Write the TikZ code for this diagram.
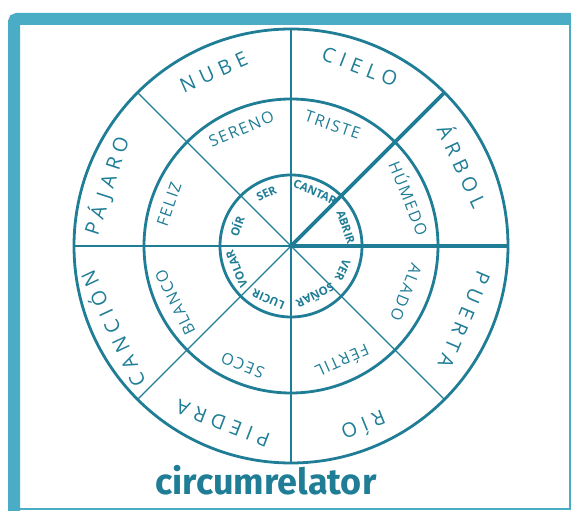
\documentclass[tikz,border=0pt]{standalone}
\usepackage{fontspec}
\newfontfamily\handfont{Open Sans}
\newfontfamily\titlefont{Fira Sans}
\definecolor{wheelcol}{RGB}{31,125,150}
\definecolor{framecol}{RGB}{75,172,198}
\tikzset{
  ring/.style={draw=wheelcol, line width=2.8pt},
  spoke/.style={draw=wheelcol, line width=1.3pt},
  bigspoke/.style={draw=wheelcol, line width=3.6pt},
  outerword/.style={text=wheelcol, inner sep=0pt, font=\handfont\fontsize{20}{20}\selectfont\addfontfeature{LetterSpace=30}},
  midword/.style={text=wheelcol, inner sep=0pt, font=\handfont\fontsize{16}{16}\selectfont\addfontfeature{LetterSpace=10}},
  innerword/.style={text=wheelcol, inner sep=0pt, font=\handfont\bfseries\fontsize{11.5}{11.5}\selectfont},
}
\begin{document}
\begin{tikzpicture}[x=1pt,y=1pt]
  \useasboundingbox (0,0) rectangle (571,511);
  \clip (0,0) rectangle (571,511);
  % frame
  \draw[framecol, line width=12pt, rounded corners=3pt] (14,-10) -- (14,492) -- (590,492);
  \draw[framecol, line width=1.5pt] (14,2) -- (570,2) -- (570,492);
  \begin{scope}[shift={(291,265)}]
    \coordinate (c) at (0,0);
    % rings and spokes
    \foreach \r in {217,147,71} \draw[ring] (c) circle (\r);
    \draw[spoke] (90:217) -- (270:217);
    \draw[spoke] (135:217) -- (315:217);
    \draw[spoke] (180:217) -- (c);
    \draw[spoke] (225:217) -- (c);
    \draw[bigspoke] (c) -- (0:217);
    \draw[bigspoke] (c) -- (45:217);
    % outer words
    \foreach \a/\r/\w [count=\k] in {114/190/NUBE, 69/192/CIELO, 25/190/ÁRBOL, -23/188/PUERTA,
        -68/195/RÍO, -111/190/PIEDRA, 205/198/CANCIÓN, 162/194/PÁJARO}
      \node[outerword, rotate=\a-90] (o\k) at (\a:\r) {\w};
    % middle words
    \foreach \a/\r/\w [count=\k] in {113/127/SERENO, 71/128/TRISTE, 22/128/HÚMEDO, -22/124/ALADO,
        -66/127/FÉRTIL, -112/129/SECO, 206/129/BLANCO, 161/129/FELIZ}
      \node[midword, rotate=\a-90] (m\k) at (\a:\r) {\w};
    % inner words
    \foreach \a/\r/\w [count=\k] in {115/58/SER, 66/59/CANTAR, 19/58/ABRIR, -25/57/VER,
        -64/56/SOÑAR, -113/58/LUCIR, 203/59/VOLAR, 160/58/OÍR}
      \node[innerword, rotate=\a-90] (i\k) at (\a:\r) {\w};
  \end{scope}
  \node[text=wheelcol, font=\titlefont\bfseries\fontsize{36}{36}\selectfont] (title) at (266,31) {circumrelator};
\end{tikzpicture}
\end{document}
